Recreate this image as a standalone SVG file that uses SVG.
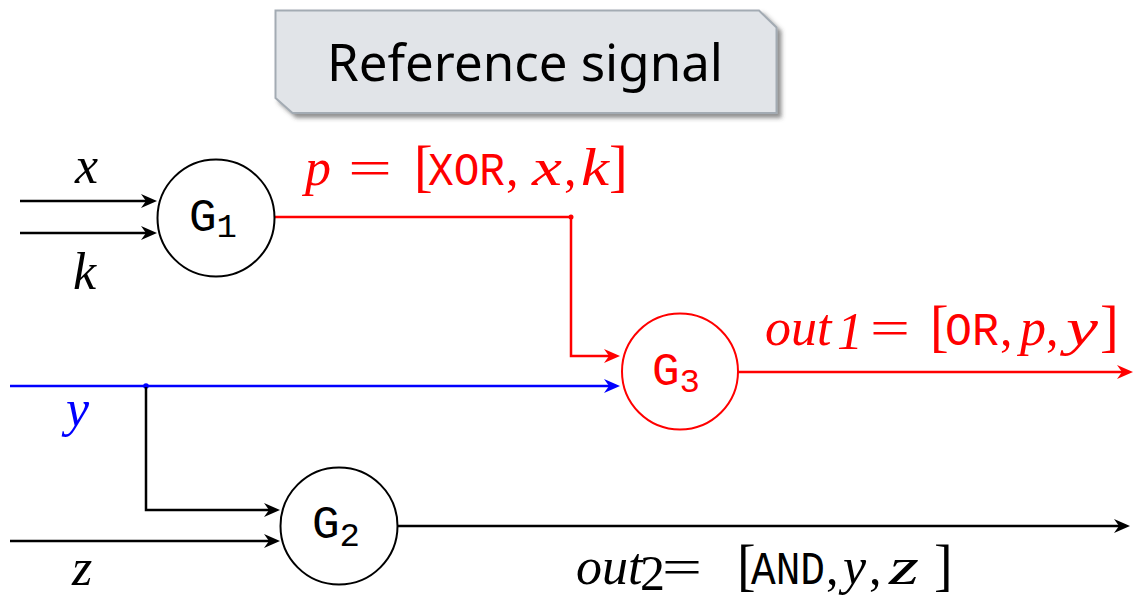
<svg xmlns="http://www.w3.org/2000/svg" width="1135" height="598" viewBox="0 0 1135 598">
<defs>
<style>
.wire{fill:none;stroke-width:2.5}
.blk{stroke:#000}
.red{stroke:#ff0000}
.blu{stroke:#0000ff}
.node{fill:#fff;stroke-width:2}
.mi{font-family:"Liberation Serif",serif;font-style:italic;font-size:52px}
.mr{font-family:"Liberation Serif",serif;font-size:50px}
.br{font-family:"Liberation Serif",serif;font-size:56px}
.tt{font-family:"Liberation Mono",monospace;font-size:46px}
.sub{font-family:"Liberation Mono",monospace;font-size:34px}
.g{font-family:"Liberation Mono",monospace;font-size:46px}
</style>
<marker id="ab" viewBox="0 0 16 14" refX="10" refY="7" markerWidth="16" markerHeight="14" markerUnits="userSpaceOnUse" orient="auto"><path d="M0,0 L16,7 L0,14 L5,7 Z" fill="#000"/></marker>
<marker id="ar" viewBox="0 0 16 14" refX="10" refY="7" markerWidth="16" markerHeight="14" markerUnits="userSpaceOnUse" orient="auto"><path d="M0,0 L16,7 L0,14 L5,7 Z" fill="#ff0000"/></marker>
<marker id="au" viewBox="0 0 16 14" refX="10" refY="7" markerWidth="16" markerHeight="14" markerUnits="userSpaceOnUse" orient="auto"><path d="M0,0 L16,7 L0,14 L5,7 Z" fill="#0000ff"/></marker>
<filter id="sh" x="-5%" y="-10%" width="115%" height="130%"><feDropShadow dx="4" dy="4" stdDeviation="2" flood-color="#444" flood-opacity="0.6"/></filter>
</defs>

<g id="reference-signal">
<path d="M275.5,10.5 H759 L776.5,27.5 V113 H292.5 L275.5,98 Z" fill="#e1e4e8" stroke="#a3abb3" stroke-width="2" filter="url(#sh)"/>
<text x="525" y="81" text-anchor="middle" font-family="'Noto Sans','Open Sans',sans-serif" font-size="51" fill="#000">Reference signal</text>
</g>

<g id="connectors">
<path class="wire blk" d="M20,201 H151" marker-end="url(#ab)"/>
<path class="wire blk" d="M20,233 H151" marker-end="url(#ab)"/>
<path class="wire red" d="M274.5,217 H571 V356 H614" marker-end="url(#ar)"/>
<circle cx="571" cy="217" r="2.5" fill="#ff0000"/>
<path class="wire blu" d="M10,386 H614" marker-end="url(#au)"/>
<circle cx="146" cy="386" r="2.8" fill="#0000ff"/>
<path class="wire red" d="M738,372 H1127" marker-end="url(#ar)"/>
<path class="wire blk" d="M146,387 V510 H274" marker-end="url(#ab)"/>
<path class="wire blk" d="M10,541 H274" marker-end="url(#ab)"/>
<path class="wire blk" d="M397.5,526 H1124" marker-end="url(#ab)"/>
</g>

<g id="labels">
<text class="mi" x="75" y="183">x</text>
<text class="mi" x="73" y="289">k</text>
<text class="mi" x="66" y="426" fill="#0000ff">y</text>
<text class="mi" x="72" y="585">z</text>
<text fill="#ff0000" y="185"><tspan class="mi" x="305">p</tspan><tspan class="mr" x="348" textLength="44" lengthAdjust="spacingAndGlyphs">=</tspan><tspan class="br" x="414">[</tspan><tspan class="tt" x="428" textLength="77" lengthAdjust="spacingAndGlyphs">XOR</tspan><tspan class="mr" x="506">,</tspan><tspan class="mi" x="532" textLength="30" lengthAdjust="spacingAndGlyphs">x</tspan><tspan class="mr" x="564">,</tspan><tspan class="mi" x="581" textLength="28" lengthAdjust="spacingAndGlyphs">k</tspan><tspan class="br" x="609">]</tspan></text>
<text fill="#ff0000" y="345"><tspan class="mi" x="765" font-size="50">out</tspan><tspan class="mi" x="837" y="349" font-size="32">1</tspan><tspan class="mr" x="870" y="345" textLength="40" lengthAdjust="spacingAndGlyphs">=</tspan><tspan class="br" x="930">[</tspan><tspan class="tt" x="945" textLength="54" lengthAdjust="spacingAndGlyphs">OR</tspan><tspan class="mr" x="1000">,</tspan><tspan class="mi" x="1020">p</tspan><tspan class="mr" x="1046">,</tspan><tspan class="mi" x="1066" textLength="32" lengthAdjust="spacingAndGlyphs">y</tspan><tspan class="br" x="1100">]</tspan></text>
<text fill="#000" y="584"><tspan class="mi" x="576" font-size="48">out</tspan><tspan class="mr" x="640" y="590" font-size="28">2</tspan><tspan class="mr" x="662" y="584" textLength="40" lengthAdjust="spacingAndGlyphs">=</tspan><tspan class="br" x="737">[</tspan><tspan class="tt" x="751" textLength="74" lengthAdjust="spacingAndGlyphs">AND</tspan><tspan class="mr" x="826">,</tspan><tspan class="mi" x="843">y</tspan><tspan class="mr" x="869">,</tspan><tspan class="mi" x="889" textLength="30" lengthAdjust="spacingAndGlyphs">z</tspan><tspan class="br" x="934">]</tspan></text>
</g>

<g id="G1">
<circle class="node" cx="216" cy="218" r="58.5" stroke="#000"/>
<text class="g" x="189" y="231" fill="#000">G<tspan class="sub" dy="6">1</tspan></text>
</g>
<g id="G3">
<circle class="node" cx="680" cy="371.5" r="58" stroke="#ff0000"/>
<text class="g" x="652" y="385" fill="#ff0000">G<tspan class="sub" dy="7">3</tspan></text>
</g>
<g id="G2">
<circle class="node" cx="339" cy="526" r="58.5" stroke="#000"/>
<text class="g" x="312" y="538" fill="#000">G<tspan class="sub" dy="8">2</tspan></text>
</g>
</svg>
